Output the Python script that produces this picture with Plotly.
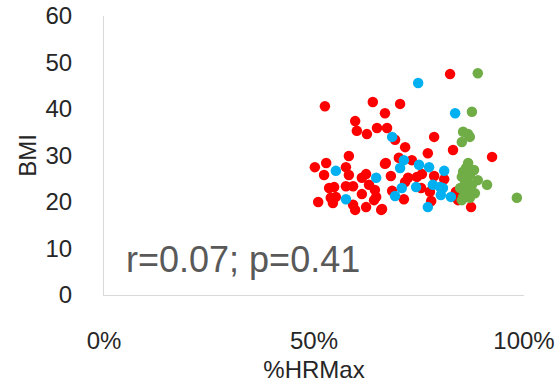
import plotly.graph_objects as go

# %HRMax (fraction) and BMI per group
red_x = [52.6, 64.0, 59.8, 60.2, 62.6, 65.0, 66.9, 82.4, 70.5, 67.4, 78.6, 58.3, 50.2, 52.9, 52.4,
         57.6, 58.3, 62.4, 61.4, 66.9, 53.6, 54.8, 57.6, 59.3, 63.1, 64.5, 61.4, 54.0, 55.2, 64.8,
         51.0, 54.5, 59.3, 62.4, 59.8, 66.0, 64.3, 71.7, 77.1, 83.1, 70.2, 73.3, 67.1, 68.3, 72.4,
         74.5, 75.7, 78.6, 81.0, 71.7, 75.5, 68.6, 71.4, 77.6, 77.9, 66.2, 92.4, 83.8, 84.3, 87.4,
         69.3]
red_y = [40.6, 41.5, 37.4, 35.3, 34.6, 35.9, 39.1, 47.5, 41.1, 35.9, 34.0, 29.9, 27.5, 28.4, 25.8,
         27.5, 25.8, 26.0, 25.2, 28.2, 23.0, 23.2, 23.4, 23.4, 23.7, 22.6, 21.7, 20.9, 21.1, 21.1,
         20.0, 19.8, 19.4, 18.9, 18.3, 18.3, 20.4, 31.8, 30.5, 31.2, 29.5, 29.0, 28.4, 25.6, 25.2,
         25.4, 26.0, 25.6, 24.9, 24.3, 23.0, 22.4, 20.6, 22.2, 20.2, 18.5, 29.7, 22.2, 20.4, 18.9,
         33.4]

blue_x = [74.8, 83.6, 68.6, 55.2, 64.8, 57.6, 71.4, 70.5, 75.0, 77.4, 81.0, 70.9, 74.3, 78.3,
          80.0, 80.7, 69.3, 80.2, 82.6, 77.1]
blue_y = [45.6, 39.1, 34.0, 26.7, 25.2, 20.6, 29.0, 27.3, 28.0, 27.5, 26.7, 23.0, 23.2, 23.7,
          23.2, 23.0, 21.3, 21.5, 21.1, 18.9]

green_x = [89.0, 87.6, 85.5, 87.1, 85.2, 86.7, 86.7, 88.1, 85.5, 85.2, 87.1, 89.0, 91.2, 86.0,
           87.6, 86.4, 88.3, 85.5, 85.2, 87.1, 98.3, 86.2, 84.8]
green_y = [47.7, 39.4, 35.1, 34.0, 32.9, 34.6, 28.4, 26.9, 26.5, 25.4, 25.8, 24.7, 23.7, 24.1,
           23.7, 22.6, 21.9, 21.1, 20.4, 20.9, 20.9, 27.3, 23.0]

x_ticks = [0, 0.5, 1]
y_ticks = [0, 10, 20, 30, 40, 50, 60]
stat_text = "r=0.07; p=0.41"

fig = go.Figure()
for xs, ys, col in [(red_x, red_y, "#FF0000"), (blue_x, blue_y, "#00B0F0"), (green_x, green_y, "#70AD47")]:
    fig.add_trace(go.Scatter(
        x=[v / 100 for v in xs], y=ys, mode="markers",
        marker=dict(color=col, size=10.5, line=dict(width=0)),
        showlegend=False, hoverinfo="skip"))

fig.add_annotation(
    x=0, y=0, xref="x", yref="y", xanchor="left", yanchor="bottom",
    xshift=20, yshift=13,
    text=stat_text, showarrow=False,
    font=dict(family="Liberation Sans, Arial", size=36, color="#595959"))

fig.update_layout(
    width=559, height=387,
    margin=dict(l=104, r=35, t=16, b=92),
    paper_bgcolor="white", plot_bgcolor="white",
    font=dict(family="Liberation Sans, Arial", color="#262626"),
    xaxis=dict(range=[0, 1], tickvals=x_ticks, tickformat=".0%", automargin=False,
               showgrid=False, zeroline=False, showline=True, linecolor="#D9D9D9", linewidth=1,
               ticks="", ticklabelstandoff=24, tickfont=dict(size=24),
               title=dict(text="%HRMax", font=dict(size=24), standoff=8)),
    yaxis=dict(range=[0, 60], tickvals=y_ticks, automargin=False,
               showgrid=False, zeroline=False, showline=True, linecolor="#D9D9D9", linewidth=1,
               ticks="", ticklabelstandoff=26, tickfont=dict(size=24),
               title=dict(text="BMI", font=dict(size=24), standoff=2)),
)

fig.write_html("out.html", config={"displayModeBar": False},
               post_script="document.body.style.margin='0';")
